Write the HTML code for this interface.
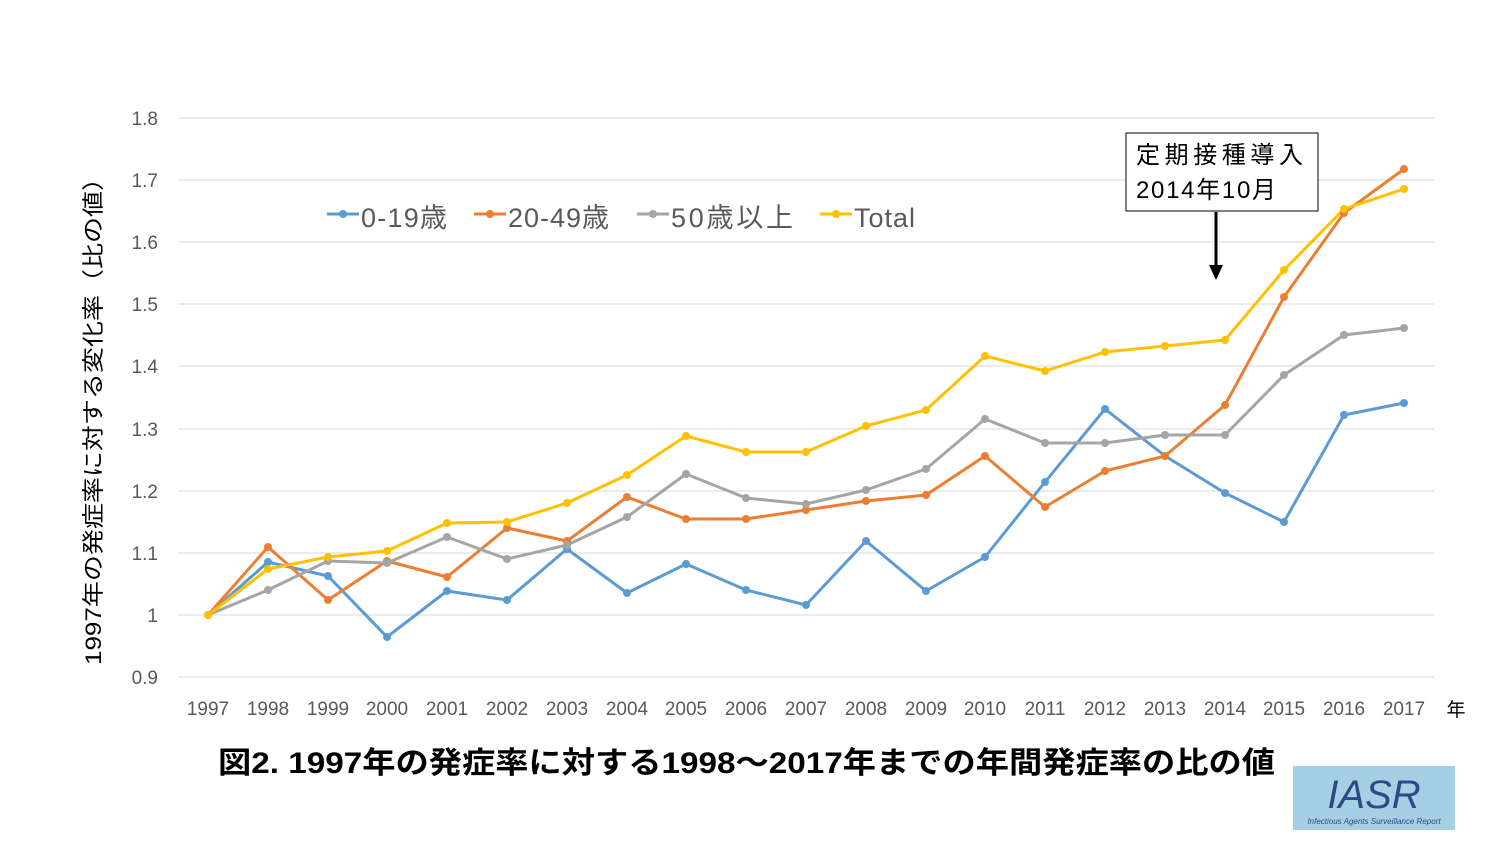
<!DOCTYPE html>
<html><head><meta charset="utf-8"><style>
body{margin:0;background:#fff;width:1496px;height:842px;overflow:hidden}
svg text{font-family:"Liberation Sans","Noto Sans CJK JP",sans-serif}
</style></head><body>
<svg width="1496" height="842" viewBox="0 0 1496 842" xmlns="http://www.w3.org/2000/svg">
<g stroke="#d9d9d9" stroke-width="1">
<line x1="178" y1="118" x2="1434" y2="118"/><line x1="178" y1="180" x2="1434" y2="180"/>
<line x1="178" y1="242" x2="1434" y2="242"/><line x1="178" y1="304" x2="1434" y2="304"/>
<line x1="178" y1="366" x2="1434" y2="366"/><line x1="178" y1="429" x2="1434" y2="429"/>
<line x1="178" y1="491" x2="1434" y2="491"/><line x1="178" y1="553" x2="1434" y2="553"/>
<line x1="178" y1="615" x2="1434" y2="615"/><line x1="178" y1="677" x2="1434" y2="677"/>
</g>
<g font-size="19" fill="#595959" text-anchor="end">
<text x="158" y="125">1.8</text><text x="158" y="187">1.7</text><text x="158" y="249">1.6</text>
<text x="158" y="311">1.5</text><text x="158" y="373">1.4</text><text x="158" y="436">1.3</text>
<text x="158" y="498">1.2</text><text x="158" y="560">1.1</text><text x="158" y="622">1</text>
<text x="158" y="684">0.9</text>
</g>
<g font-size="19" fill="#595959" text-anchor="middle">
<text x="208" y="715">1997</text><text x="268" y="715">1998</text><text x="328" y="715">1999</text>
<text x="387" y="715">2000</text><text x="447" y="715">2001</text><text x="507" y="715">2002</text>
<text x="567" y="715">2003</text><text x="627" y="715">2004</text><text x="686" y="715">2005</text>
<text x="746" y="715">2006</text><text x="806" y="715">2007</text><text x="866" y="715">2008</text>
<text x="926" y="715">2009</text><text x="985" y="715">2010</text><text x="1045" y="715">2011</text>
<text x="1105" y="715">2012</text><text x="1165" y="715">2013</text><text x="1225" y="715">2014</text>
<text x="1284" y="715">2015</text><text x="1344" y="715">2016</text><text x="1404" y="715">2017</text>
<text x="1456" y="716" fill="#000">年</text>
</g>
<text transform="translate(101,415) rotate(-90)" font-size="22" fill="#000" text-anchor="middle" textLength="500" lengthAdjust="spacingAndGlyphs">1997年の発症率に対する変化率（比の値）</text>
<g fill="none" stroke-width="3" stroke-linejoin="round">
<polyline stroke="#5b9bd5" points="208,615 268,562 328,576 387,637 447,591 507,600 567,549 627,593 686,564 746,590 806,605 866,541 926,591 985,557 1045,482 1105,409 1165,456 1225,493 1284,522 1344,415 1404,403"/>
<polyline stroke="#ed7d31" points="208,615 268,547 328,600 387,561 447,577 507,528 567,541 627,497 686,519 746,519 806,510 866,501 926,495 985,456 1045,507 1105,471 1165,456 1225,405 1284,297 1344,213 1404,169"/>
<polyline stroke="#a5a5a5" points="208,615 268,590 328,561 387,563 447,537 507,559 567,545 627,517 686,474 746,498 806,504 866,490 926,469 985,419 1045,443 1105,443 1165,435 1225,435 1284,375 1344,335 1404,328"/>
<polyline stroke="#ffc000" points="208,615 268,569 328,557 387,551 447,523 507,522 567,503 627,475 686,436 746,452 806,452 866,426 926,410 985,356 1045,371 1105,352 1165,346 1225,340 1284,270 1344,209 1404,189"/>
</g>
<g>
<g fill="#5b9bd5"><circle cx="208" cy="615" r="4"/><circle cx="268" cy="562" r="4"/><circle cx="328" cy="576" r="4"/><circle cx="387" cy="637" r="4"/><circle cx="447" cy="591" r="4"/><circle cx="507" cy="600" r="4"/><circle cx="567" cy="549" r="4"/><circle cx="627" cy="593" r="4"/><circle cx="686" cy="564" r="4"/><circle cx="746" cy="590" r="4"/><circle cx="806" cy="605" r="4"/><circle cx="866" cy="541" r="4"/><circle cx="926" cy="591" r="4"/><circle cx="985" cy="557" r="4"/><circle cx="1045" cy="482" r="4"/><circle cx="1105" cy="409" r="4"/><circle cx="1165" cy="456" r="4"/><circle cx="1225" cy="493" r="4"/><circle cx="1284" cy="522" r="4"/><circle cx="1344" cy="415" r="4"/><circle cx="1404" cy="403" r="4"/></g>
<g fill="#ed7d31"><circle cx="268" cy="547" r="4"/><circle cx="328" cy="600" r="4"/><circle cx="387" cy="561" r="4"/><circle cx="447" cy="577" r="4"/><circle cx="507" cy="528" r="4"/><circle cx="567" cy="541" r="4"/><circle cx="627" cy="497" r="4"/><circle cx="686" cy="519" r="4"/><circle cx="746" cy="519" r="4"/><circle cx="806" cy="510" r="4"/><circle cx="866" cy="501" r="4"/><circle cx="926" cy="495" r="4"/><circle cx="985" cy="456" r="4"/><circle cx="1045" cy="507" r="4"/><circle cx="1105" cy="471" r="4"/><circle cx="1165" cy="456" r="4"/><circle cx="1225" cy="405" r="4"/><circle cx="1284" cy="297" r="4"/><circle cx="1344" cy="213" r="4"/><circle cx="1404" cy="169" r="4"/></g>
<g fill="#a5a5a5"><circle cx="268" cy="590" r="4"/><circle cx="328" cy="561" r="4"/><circle cx="387" cy="563" r="4"/><circle cx="447" cy="537" r="4"/><circle cx="507" cy="559" r="4"/><circle cx="567" cy="545" r="4"/><circle cx="627" cy="517" r="4"/><circle cx="686" cy="474" r="4"/><circle cx="746" cy="498" r="4"/><circle cx="806" cy="504" r="4"/><circle cx="866" cy="490" r="4"/><circle cx="926" cy="469" r="4"/><circle cx="985" cy="419" r="4"/><circle cx="1045" cy="443" r="4"/><circle cx="1105" cy="443" r="4"/><circle cx="1165" cy="435" r="4"/><circle cx="1225" cy="435" r="4"/><circle cx="1284" cy="375" r="4"/><circle cx="1344" cy="335" r="4"/><circle cx="1404" cy="328" r="4"/></g>
<g fill="#ffc000"><circle cx="208" cy="615" r="4"/><circle cx="268" cy="569" r="4"/><circle cx="328" cy="557" r="4"/><circle cx="387" cy="551" r="4"/><circle cx="447" cy="523" r="4"/><circle cx="507" cy="522" r="4"/><circle cx="567" cy="503" r="4"/><circle cx="627" cy="475" r="4"/><circle cx="686" cy="436" r="4"/><circle cx="746" cy="452" r="4"/><circle cx="806" cy="452" r="4"/><circle cx="866" cy="426" r="4"/><circle cx="926" cy="410" r="4"/><circle cx="985" cy="356" r="4"/><circle cx="1045" cy="371" r="4"/><circle cx="1105" cy="352" r="4"/><circle cx="1165" cy="346" r="4"/><circle cx="1225" cy="340" r="4"/><circle cx="1284" cy="270" r="4"/><circle cx="1344" cy="209" r="4"/><circle cx="1404" cy="189" r="4"/></g>
</g>
<g font-size="27" fill="#595959">
<line x1="327" y1="214" x2="359" y2="214" stroke="#5b9bd5" stroke-width="3"/><circle cx="343" cy="214" r="4" fill="#5b9bd5"/>
<text x="361" y="227" textLength="86">0-19歳</text>
<line x1="474" y1="214" x2="506" y2="214" stroke="#ed7d31" stroke-width="3"/><circle cx="490" cy="214" r="4" fill="#ed7d31"/>
<text x="508" y="227" textLength="101">20-49歳</text>
<line x1="637" y1="214" x2="669" y2="214" stroke="#a5a5a5" stroke-width="3"/><circle cx="653" cy="214" r="4" fill="#a5a5a5"/>
<text x="671" y="227" textLength="122">50歳以上</text>
<line x1="820" y1="214" x2="852" y2="214" stroke="#ffc000" stroke-width="3"/><circle cx="836" cy="214" r="4" fill="#ffc000"/>
<text x="854" y="227" textLength="61">Total</text>
</g>
<rect x="1126" y="133" width="192" height="78" fill="#fff" stroke="#000" stroke-width="1"/>
<text x="1136" y="163" font-size="24" fill="#000" textLength="167">定期接種導入</text>
<text x="1136" y="198" font-size="24" fill="#000" textLength="140">2014年10月</text>
<line x1="1216" y1="212" x2="1216" y2="266" stroke="#000" stroke-width="3"/>
<polygon points="1209,265 1223,265 1216,280" fill="#000"/>
<text x="218" y="773" font-size="30" font-weight="bold" fill="#000" textLength="1057" lengthAdjust="spacingAndGlyphs">図2. 1997年の発症率に対する1998～2017年までの年間発症率の比の値</text>
<rect x="1293" y="766" width="162" height="64" fill="#a7cfe3"/>
<text x="1374" y="808" font-size="40" font-style="italic" font-family="Liberation Serif,serif" fill="#2a4a8a" text-anchor="middle">IASR</text>
<text x="1374" y="824" font-size="8" font-style="italic" fill="#2a4a8a" text-anchor="middle">Infectious Agents Surveillance Report</text>
</svg>
</body></html>
